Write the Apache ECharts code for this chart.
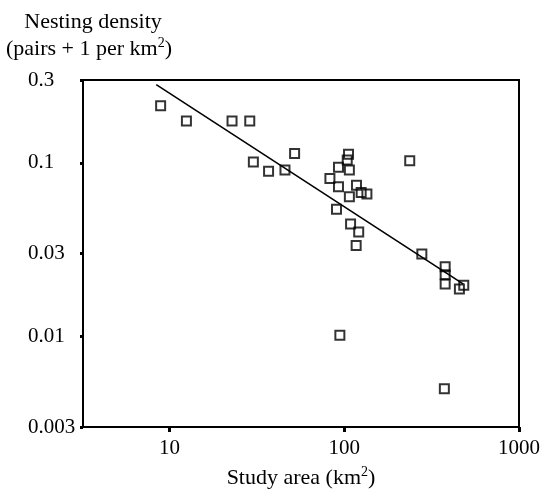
<!DOCTYPE html>
<html>
<head>
<meta charset="utf-8">
<script src="https://cdn.jsdelivr.net/npm/echarts@6/dist/echarts.min.js"></script>
<style>
html,body{margin:0;padding:0;background:#fff;}
#chart{width:545px;height:492px;}
</style>
</head>
<body>
<div id="chart"></div>
<script>
// Study area (km²) and nesting density (pairs + 1 per km²)
var studyArea = [8.9, 12.5, 22.8, 28.8, 52, 30.2, 36.9, 45.8,
  105.8, 104, 92.7, 107, 82.8, 92.7, 117.5, 125, 134.8, 107, 90.3, 108.7, 121, 117, 237, 278,
  378, 378, 378, 483, 456, 94.4, 374];
var density = [0.213, 0.174, 0.174, 0.174, 0.113, 0.101, 0.0893, 0.0908,
  0.112, 0.1037, 0.0942, 0.0908, 0.0813, 0.0727, 0.0741, 0.0673, 0.0661, 0.0637, 0.054, 0.0444, 0.0399, 0.0334, 0.1028, 0.0298,
  0.0252, 0.0226, 0.020, 0.0197, 0.0187, 0.01015, 0.00499];
// Fitted regression line end points
var fitArea = [8.4, 481];
var fitDensity = [0.282, 0.020];
var xTicks = [10, 100, 1000];
var yTicks = [0.003, 0.01, 0.03, 0.1, 0.3];
var yTickLabels = ['0.003', '0.01', '0.03', '0.1', '0.3'];

var pts = studyArea.map(function (a, i) { return [a, density[i]]; });
var fit = fitArea.map(function (a, i) { return [a, fitDensity[i]]; });
var FONT = '"Liberation Serif", "DejaVu Serif", serif';

var chart = echarts.init(document.getElementById('chart'), null, {renderer: 'canvas'});
chart.setOption({
  animation: false,
  backgroundColor: '#fff',
  grid: {left: 83, right: 26, top: 80, bottom: 65, show: true, borderColor: '#000', borderWidth: 2,
    containLabel: false, outerBoundsMode: 'none'},
  graphic: [{
    type: 'text', x: 93, y: 22,
    style: {text: 'Nesting density', font: '22px ' + FONT, fill: '#000', align: 'center', verticalAlign: 'middle'}
  }, {
    type: 'text', x: 89, y: 49,
    style: {text: '(pairs + 1 per km{sup|2})', fontFamily: FONT, fontSize: 22, fill: '#000',
      align: 'center', verticalAlign: 'middle', lineHeight: 26,
      rich: {sup: {fontFamily: FONT, fontSize: 14, fill: '#000', verticalAlign: 'top', lineHeight: 26}}}
  }],
  xAxis: {
    type: 'log', logBase: 10, min: 3.2, max: 1000,
    name: 'Study area (km{sup|2})', nameLocation: 'middle', nameGap: 38,
    nameTextStyle: {fontFamily: FONT, fontSize: 22, color: '#000', lineHeight: 26,
      rich: {sup: {fontFamily: FONT, fontSize: 14, color: '#000', verticalAlign: 'top', lineHeight: 26}}},
    axisLine: {show: true, lineStyle: {color: '#000', width: 2}},
    axisTick: {show: true, length: 5, inside: false, lineStyle: {color: '#000', width: 3}, customValues: xTicks},
    axisLabel: {customValues: xTicks, margin: 11, fontFamily: FONT, fontSize: 21, color: '#000',
      formatter: function (v) { return String(Math.round(v)); }},
    splitLine: {show: false}, minorTick: {show: false}
  },
  yAxis: {
    type: 'log', logBase: 10, min: 0.003, max: 0.3,
    axisLine: {show: true, lineStyle: {color: '#000', width: 2}},
    axisTick: {show: true, length: 3, inside: false, lineStyle: {color: '#000', width: 3}, customValues: yTicks},
    axisLabel: {customValues: yTicks, margin: 55, align: 'left', fontFamily: FONT, fontSize: 21, color: '#000',
      padding: [2, 0, 0, 0],
      formatter: function (v) {
        var bi = 0;
        yTicks.forEach(function (c, i) {
          if (Math.abs(Math.log(c) - Math.log(v)) < Math.abs(Math.log(yTicks[bi]) - Math.log(v))) bi = i;
        });
        return yTickLabels[bi];
      }},
    splitLine: {show: false}, minorTick: {show: false}
  },
  series: [{
    type: 'line', data: fit, symbol: 'none', silent: true,
    lineStyle: {color: '#000', width: 1.6}, z: 2
  }, {
    type: 'scatter', data: pts, symbol: 'rect', symbolSize: 9,
    itemStyle: {color: 'rgba(0,0,0,0)', borderColor: '#000', borderWidth: 2}, z: 3
  }]
});
</script>
</body>
</html>
